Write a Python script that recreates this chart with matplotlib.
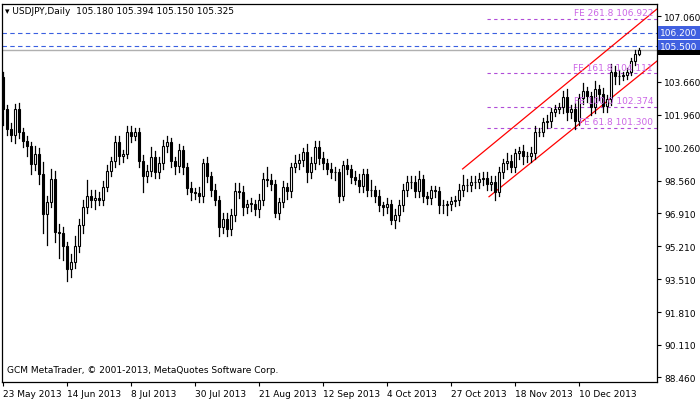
import matplotlib
matplotlib.use("Agg")
import matplotlib.pyplot as plt
from matplotlib.patches import Rectangle

closes = [102.27,101.24,100.93,102.27,101.08,100.60,100.36,99.43,99.95,98.92,
          96.86,97.50,98.66,95.93,95.90,95.20,94.00,94.40,95.20,96.30,
          97.20,97.80,97.60,97.70,97.60,98.25,99.10,99.60,100.57,99.85,
          99.95,101.08,100.88,101.08,99.60,98.80,99.10,99.80,99.00,99.50,
          100.36,100.57,99.60,99.33,100.15,99.30,98.20,98.00,97.94,97.80,
          99.50,98.80,98.10,97.60,96.20,96.60,96.10,96.80,98.05,98.00,
          97.20,97.40,97.40,97.10,97.60,98.66,98.60,98.40,96.90,97.50,
          98.25,98.05,99.30,99.50,99.65,100.05,99.00,99.50,100.31,99.75,
          99.50,99.20,99.00,99.00,97.80,99.40,99.20,98.76,98.60,98.30,
          98.90,98.10,98.10,97.80,97.30,97.20,97.40,96.55,96.80,97.30,
          98.10,98.50,98.50,98.05,98.66,97.80,97.70,98.10,98.05,97.30,
          97.30,97.35,97.55,97.60,98.10,98.35,98.35,98.50,98.50,98.66,
          98.70,98.40,98.50,98.00,99.00,99.50,99.60,99.30,100.00,100.10,
          99.85,99.85,100.00,101.08,101.08,101.60,101.65,102.10,102.27,102.37,
          102.90,102.10,102.27,101.65,102.84,103.20,102.94,102.37,103.30,103.04,
          102.42,102.78,104.20,103.97,103.97,104.00,104.20,104.74,105.10,105.325]
first_open = 103.90
wick_up = [0.30,0.20,0.30,0.25,0.30,0.20,0.30,0.20,0.40,0.30,
           0.60,0.30,0.50,0.40,0.40,0.30,0.20,0.40,0.50,0.30,
           0.40,0.80,0.30,0.40,0.30,0.30,0.30,0.20,0.30,0.30,
           0.20,0.30,0.30,0.20,0.20,0.30,0.30,0.50,0.30,0.30,
           0.30,0.30,0.20,0.20,0.30,0.20,0.20,0.30,0.20,0.30,
           0.20,0.30,0.20,0.30,0.20,0.30,0.30,0.30,0.40,0.40,
           0.30,0.20,0.30,0.20,0.30,0.30,0.60,0.30,0.20,0.20,
           0.30,0.20,0.20,0.40,0.30,0.20,0.40,0.30,0.30,0.30,
           0.30,0.20,0.30,0.30,0.20,0.20,0.30,0.20,0.30,0.30,
           0.30,0.30,0.50,0.20,0.30,0.20,0.30,0.20,0.30,0.30,
           0.30,0.30,0.30,0.30,0.40,0.20,0.20,0.20,0.20,0.20,
           0.30,0.20,0.20,0.20,0.30,0.50,0.30,0.30,0.30,0.30,
           0.30,0.30,0.30,0.30,0.30,0.20,0.40,0.30,0.20,0.20,
           0.30,0.20,0.30,0.30,0.20,0.20,0.30,0.20,0.20,0.20,
           0.30,0.40,0.20,0.30,0.20,0.40,0.20,0.20,0.40,0.20,
           0.30,0.20,0.40,0.30,0.30,0.20,0.20,0.15,0.20,0.10]
wick_dn = [0.80,0.30,0.30,0.40,0.30,0.30,0.50,0.50,0.30,0.50,
           1.00,1.60,0.30,0.50,1.30,0.70,0.60,0.40,0.30,0.30,
           0.40,0.30,0.40,0.50,0.30,0.30,0.20,0.30,0.30,0.40,
           0.30,0.20,0.30,0.20,0.30,0.80,0.30,0.30,0.30,0.30,
           0.30,0.30,0.30,0.40,0.30,0.40,0.30,0.40,0.30,0.30,
           0.30,0.30,0.30,0.30,0.50,0.30,0.40,0.30,0.30,0.30,
           0.40,0.30,0.40,0.30,0.40,0.30,0.30,0.30,0.20,0.30,
           0.30,0.40,0.30,0.30,0.30,0.30,0.50,0.30,0.30,0.30,
           0.30,0.30,0.30,0.40,0.30,0.20,0.30,0.30,0.20,0.30,
           0.30,0.30,0.30,0.30,0.30,0.40,0.30,0.20,0.40,0.30,
           0.30,0.30,0.30,0.30,0.30,0.30,0.30,0.30,0.30,0.40,
           0.40,0.50,0.30,0.30,0.30,0.30,0.30,0.30,0.30,0.30,
           0.30,0.30,0.30,0.40,0.20,0.30,0.30,0.30,0.30,0.30,
           0.40,0.30,0.30,0.30,0.20,0.20,0.30,0.30,0.20,0.20,
           0.30,0.40,0.30,0.40,0.20,0.30,0.30,0.40,0.30,0.30,
           0.30,0.30,0.30,0.40,0.40,0.20,0.20,0.20,0.20,0.03]
date_labels = ["23 May 2013","14 Jun 2013","8 Jul 2013","30 Jul 2013","21 Aug 2013",
               "12 Sep 2013","4 Oct 2013","27 Oct 2013","18 Nov 2013","10 Dec 2013"]
price_ticks = [107.060,103.660,101.960,100.260,98.560,96.910,95.210,93.510,91.810,90.110,88.460]
fib_levels = [106.922,104.111,102.374,101.300]
fib_names = ["FE 261.8","FE 161.8","FE 100.0","FE 61.8"]
hlines = [106.200,105.500]
chan_upper = [(114.9,99.18),(163.5,107.42)]
chan_lower = [(121.5,97.75),(163.5,104.74)]

W,H = 700,402
fig = plt.figure(figsize=(7,4.02),dpi=100)
ax = fig.add_axes([2/W, 19/H, 655/W, 378/H])
ymin = 107.06-(383-17)*0.05152
ymax = 107.06+(17-5)*0.05152
ax.set_xlim(-0.25,163.5)
ax.set_ylim(ymin,ymax)

opens = [first_open]+closes[:-1]
bw = 0.55
for i,(o,c) in enumerate(zip(opens,closes)):
    hi = max(o,c)+wick_up[i]; lo = min(o,c)-wick_dn[i]
    ax.plot([i,i],[lo,hi],color='black',lw=0.9,zorder=3)
    bull = c>=o
    h = abs(c-o) if abs(c-o)>0.02 else 0.02
    ax.add_patch(Rectangle((i-bw/2,min(o,c)),bw,h,facecolor='white' if bull else 'black',
                           edgecolor='black',lw=0.8,zorder=4))

fx0 = 121
for lv,nm in zip(fib_levels,fib_names):
    ax.plot([fx0,163.5],[lv,lv],color='#b04cd8',lw=0.8,ls=(0,(3,3)),zorder=2)
    ax.text(162.5,lv+0.08,f"{nm} {lv:.3f}",color='#cc66e6',fontsize=6.5,ha='right',va='bottom',zorder=5)
for lv in hlines:
    ax.axhline(lv,color='#3a5fe0',lw=0.8,ls=(0,(4,3)),zorder=2)
ax.axhline(closes[-1],color='#b0b0b0',lw=1,zorder=1)
for ln in (chan_upper,chan_lower):
    ax.plot([ln[0][0],ln[1][0]],[ln[0][1],ln[1][1]],color='red',lw=0.9,zorder=2)

ax.yaxis.tick_right()
ax.set_yticks(price_ticks)
ax.set_yticklabels([f"{p:.3f}" for p in price_ticks])
ax.set_xticks([16*k for k in range(len(date_labels))])
ax.set_xticklabels(date_labels,ha='left')
ax.tick_params(axis='both',labelsize=6.5,length=3,width=0.8,color='black',pad=2)
for s in ax.spines.values(): s.set_linewidth(0.9)

# current-price marker (mostly hidden under the 105.500 box)
fig.patches.append(Rectangle((658/W,(402-56)/H),42/W,5/H,transform=fig.transFigure,
                             facecolor='black',edgecolor='none',zorder=4))
for lv in hlines:
    ax.text(1.005,lv,f"{lv:.3f}",transform=ax.get_yaxis_transform(),color='white',fontsize=6.5,
            va='center',ha='left',bbox=dict(boxstyle='square,pad=0.25',fc='#4060e0',ec='none'),zorder=6,clip_on=False)

fig.text(5/W,1-12/H,"\u25be USDJPY,Daily  105.180 105.394 105.150 105.325",fontsize=6.5,va='center',ha='left')
ax.text(0.008,0.02,"GCM MetaTrader, \u00a9 2001-2013, MetaQuotes Software Corp.",transform=ax.transAxes,fontsize=6.5,va='bottom')
fig.savefig("out.png",dpi=100)
